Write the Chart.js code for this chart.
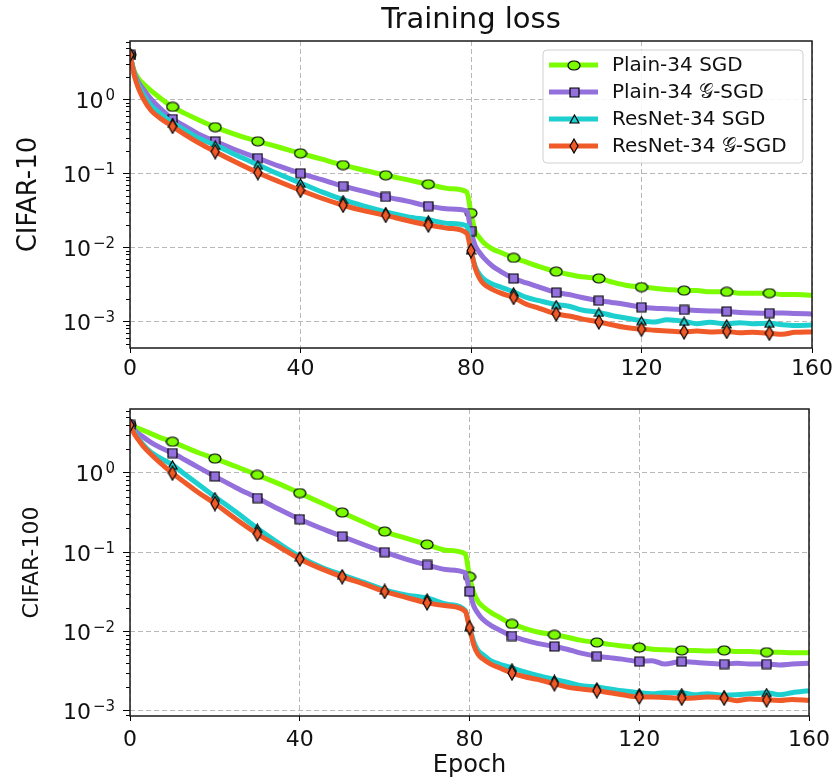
<!DOCTYPE html>
<html>
<head>
<meta charset="utf-8">
<script src="https://cdn.jsdelivr.net/npm/chart.js@4.4.1/dist/chart.umd.min.js"></script>
<style>
  html, body { margin: 0; padding: 0; background: #fff; }
  body { width: 836px; height: 778px; position: relative; overflow: hidden; }
  .box { position: absolute; left: 0; width: 836px; }
  #top { top: 0; height: 380px; }
  #bottom { top: 380px; height: 398px; }
</style>
</head>
<body>
<div class="box" id="top"><canvas id="c10" width="836" height="380"></canvas></div>
<div class="box" id="bottom"><canvas id="c100" width="836" height="398"></canvas></div>
<script>
const epochs = [0, 1, 2, 3, 5, 7, 10, 13, 16, 20, 25, 30, 35, 40, 45, 50, 55, 60, 65, 70, 75, 79,
  80, 81, 82, 83, 85, 87, 90, 93, 96, 100, 103, 106, 110, 113, 116, 120, 123, 126, 130, 133,
  136, 140, 143, 146, 150, 153, 156, 160];
// epochs that carry a marker
const markEpochs = [0, 10, 20, 30, 40, 50, 60, 70, 80, 90, 100, 110, 120, 130, 140, 150];

const seriesNames = ['Plain-34 SGD', 'Plain-34 𝒢-SGD', 'ResNet-34 SGD', 'ResNet-34 𝒢-SGD'];
const xTickValues = [0, 40, 80, 120, 160];
const yTickValues = [1, 0.1, 0.01, 0.001];
const yTickBase = '10';
const yTickExponents = ['0', '−1', '−2', '−3'];

// CIFAR-10
const c10PlainSgd = [4.0, 2.4, 1.9, 1.65, 1.3, 1.05, 0.79, 0.64, 0.53, 0.42, 0.33, 0.27, 0.225, 0.186,
  0.155, 0.129, 0.11, 0.094, 0.082, 0.071, 0.062, 0.056, 0.029, 0.0165, 0.0135, 0.0115, 0.0095,
  0.0085, 0.0072, 0.0063, 0.0055, 0.0047, 0.0043, 0.0040, 0.0038, 0.0034, 0.0031, 0.0029, 0.0028,
  0.0027, 0.0026, 0.0026, 0.0025, 0.0025, 0.0024, 0.0024, 0.0024, 0.0023, 0.0023, 0.00225];
const c10PlainGsgd = [4.0, 2.3, 1.7, 1.4, 1.0, 0.76, 0.54, 0.43, 0.34, 0.27, 0.205, 0.16, 0.125, 0.10,
  0.082, 0.067, 0.057, 0.048, 0.042, 0.036, 0.033, 0.031, 0.0166, 0.0105, 0.0085, 0.0072, 0.0056,
  0.0047, 0.0038, 0.0033, 0.0029, 0.00245, 0.0023, 0.0021, 0.0019, 0.0018, 0.0017, 0.00155, 0.0015,
  0.00148, 0.00143, 0.0014, 0.00138, 0.00136, 0.00132, 0.0013, 0.00129, 0.0013, 0.00128, 0.00126];
const c10ResSgd = [4.0, 2.2, 1.55, 1.2, 0.82, 0.65, 0.48, 0.38, 0.30, 0.24, 0.175, 0.13, 0.097, 0.074,
  0.056, 0.044, 0.036, 0.030, 0.026, 0.0235, 0.021, 0.0195, 0.0092, 0.0055, 0.0043, 0.0037, 0.0032,
  0.0029, 0.0025, 0.0021, 0.0019, 0.00168, 0.0016, 0.00142, 0.00132, 0.0012, 0.00112, 0.00102,
  0.00098, 0.00105, 0.001, 0.00093, 0.00097, 0.00092, 0.00096, 0.00093, 0.00094, 0.0009, 0.00088, 0.00089];
const c10ResGsgd = [4.0, 2.1, 1.4, 1.05, 0.7, 0.56, 0.43, 0.33, 0.26, 0.196, 0.14, 0.102, 0.077, 0.059,
  0.046, 0.037, 0.031, 0.027, 0.023, 0.020, 0.018, 0.0155, 0.009, 0.0052, 0.0038, 0.0032, 0.0027,
  0.0024, 0.0021, 0.0017, 0.0015, 0.00126, 0.00118, 0.00108, 0.00098, 0.0009, 0.00083, 0.00078,
  0.00076, 0.00074, 0.00072, 0.00074, 0.00072, 0.00073, 0.0007, 0.00071, 0.00069, 0.00067, 0.00071, 0.00072];

// CIFAR-100
const c100PlainSgd = [4.0, 3.8, 3.6, 3.45, 3.1, 2.8, 2.46, 2.1, 1.8, 1.51, 1.2, 0.94, 0.73, 0.555,
  0.42, 0.316, 0.24, 0.182, 0.15, 0.125, 0.105, 0.095, 0.049, 0.031, 0.024, 0.021, 0.0175, 0.0152,
  0.0125, 0.011, 0.0099, 0.0091, 0.0085, 0.0078, 0.0073, 0.0069, 0.0066, 0.0063, 0.006, 0.0059,
  0.0058, 0.0058, 0.0057, 0.0058, 0.0056, 0.0056, 0.0055, 0.0055, 0.0054, 0.0054];
const c100PlainGsgd = [4.0, 3.5, 3.1, 2.85, 2.4, 2.1, 1.77, 1.45, 1.18, 0.90, 0.65, 0.48, 0.35, 0.26,
  0.2, 0.158, 0.125, 0.10, 0.082, 0.069, 0.06, 0.055, 0.032, 0.021, 0.017, 0.0145, 0.012, 0.0105,
  0.0088, 0.0078, 0.0071, 0.0065, 0.006, 0.0054, 0.0049, 0.0047, 0.0045, 0.0042, 0.0043, 0.0039,
  0.0042, 0.0041, 0.004, 0.0039, 0.004, 0.0039, 0.0039, 0.0038, 0.0039, 0.004];
const c100ResSgd = [4.0, 3.3, 2.7, 2.3, 1.8, 1.55, 1.26, 0.95, 0.72, 0.50, 0.32, 0.20, 0.13, 0.088,
  0.065, 0.052, 0.042, 0.0335, 0.029, 0.0265, 0.022, 0.0185, 0.0115, 0.0075, 0.0058, 0.0052, 0.0043,
  0.0039, 0.0035, 0.0031, 0.0028, 0.0025, 0.0023, 0.0021, 0.002, 0.0019, 0.0018, 0.0017, 0.00165,
  0.0017, 0.0017, 0.0016, 0.00165, 0.00158, 0.0016, 0.00165, 0.0017, 0.0016, 0.0017, 0.0018];
const c100ResGsgd = [4.0, 3.1, 2.6, 2.2, 1.7, 1.35, 0.99, 0.75, 0.57, 0.41, 0.26, 0.17, 0.118, 0.082,
  0.062, 0.049, 0.040, 0.032, 0.027, 0.023, 0.021, 0.018, 0.0112, 0.0068, 0.0052, 0.0046, 0.0039,
  0.0035, 0.003, 0.0027, 0.0025, 0.0022, 0.002, 0.0019, 0.0018, 0.0017, 0.0016, 0.0015, 0.0015,
  0.00148, 0.00145, 0.00146, 0.0015, 0.00145, 0.00135, 0.00142, 0.00138, 0.00136, 0.0014, 0.00136];

const FONT = 'DejaVu Sans';
const colors = ['#7CFC00', '#9370DB', '#1ECFCF', '#F05A28'];
Chart.defaults.font.family = FONT;
Chart.defaults.color = '#111';

// marker sprites (circle, square, triangle, thin diamond)
function sprite(w, h, color, shape) {
  const c = document.createElement('canvas');
  c.width = w; c.height = h;
  const g = c.getContext('2d');
  g.fillStyle = color; g.strokeStyle = '#000'; g.lineWidth = 1.2;
  g.beginPath();
  shape(g, w, h);
  g.closePath(); g.fill(); g.stroke();
  return c;
}
const markers = [
  sprite(14, 11, colors[0], (g, w, h) => g.ellipse(w / 2, h / 2, w / 2 - 1, h / 2 - 1, 0, 0, Math.PI * 2)),
  sprite(11, 11, colors[1], (g, w, h) => g.rect(1, 1, w - 2, h - 2)),
  sprite(11, 10, colors[2], (g, w, h) => { g.moveTo(w / 2, 1); g.lineTo(w - 1, h - 1); g.lineTo(1, h - 1); }),
  sprite(10, 16, colors[3], (g, w, h) => { g.moveTo(w / 2, 1); g.lineTo(w - 1, h / 2); g.lineTo(w / 2, h - 1); g.lineTo(1, h / 2); })
];

function makeDataset(i, values) {
  return {
    label: seriesNames[i],
    data: epochs.map((e, k) => ({ x: e, y: values[k] })),
    borderColor: colors[i],
    backgroundColor: colors[i],
    borderWidth: 5,
    pointStyle: markers[i],
    pointRadius: ctx => (ctx.raw && markEpochs.includes(ctx.raw.x)) ? 6 : 0,
    pointHoverRadius: 0,
    cubicInterpolationMode: 'monotone',
    fill: false,
    order: 4 - i
  };
}

// frame round the plot, minor ticks on the log axis and 10^n labels
const framePlugin = {
  id: 'frame',
  afterDraw(chart) {
    const { ctx, chartArea: a } = chart;
    const y = chart.scales.y;
    ctx.save();
    ctx.strokeStyle = '#000';
    ctx.lineWidth = 1;
    const lo = Math.floor(Math.log10(y.min)), hi = Math.ceil(Math.log10(y.max));
    for (let e = lo; e <= hi; e++) {
      for (let m = 2; m <= 9; m++) {
        const v = m * Math.pow(10, e);
        if (v < y.min || v > y.max) continue;
        const py = Math.round(y.getPixelForValue(v)) + 0.5;
        ctx.beginPath(); ctx.moveTo(a.left - 4, py); ctx.lineTo(a.left, py); ctx.stroke();
      }
    }
    ctx.strokeStyle = '#1a1a1a';
    ctx.lineWidth = 1.5;
    ctx.strokeRect(a.left, a.top, a.right - a.left, a.bottom - a.top);

    // tick labels as 10 with a raised exponent
    ctx.fillStyle = '#111';
    ctx.textBaseline = 'alphabetic';
    ctx.textAlign = 'left';
    const right = a.left - 15;
    yTickValues.forEach((v, k) => {
      const py = y.getPixelForValue(v);
      ctx.font = '15px "' + FONT + '"';
      const ws = ctx.measureText(yTickExponents[k]).width;
      ctx.font = '22px "' + FONT + '"';
      const wb = ctx.measureText(yTickBase).width;
      ctx.fillText(yTickBase, right - ws - 2 - wb, py + 8.5);
      ctx.font = '15px "' + FONT + '"';
      ctx.fillText(yTickExponents[k], right - ws, py + 0.5);
    });
    ctx.restore();
  }
};

// legend box inside the top plot
const legendPlugin = {
  id: 'legendBox',
  afterDraw(chart) {
    const ctx = chart.ctx;
    const x0 = 543, y0 = 50, w = 260, h = 113;
    ctx.save();
    ctx.beginPath();
    ctx.roundRect(x0, y0, w, h, 4);
    ctx.fillStyle = 'rgba(255,255,255,0.85)';
    ctx.fill();
    ctx.strokeStyle = '#d0d0d0';
    ctx.lineWidth = 1;
    ctx.stroke();
    ctx.font = '20px "' + FONT + '"';
    ctx.textBaseline = 'middle';
    chart.data.datasets.forEach((ds, i) => {
      const ry = y0 + 15 + i * 27;
      ctx.strokeStyle = ds.borderColor;
      ctx.lineWidth = 5;
      ctx.beginPath(); ctx.moveTo(549, ry); ctx.lineTo(598, ry); ctx.stroke();
      const m = ds.pointStyle;
      ctx.drawImage(m, Math.round(574 - m.width / 2), Math.round(ry - m.height / 2));
      ctx.fillStyle = '#111';
      ctx.fillText(ds.label, 612, ry + 1);
    });
    ctx.restore();
  }
};

function makeChart(id, cfg) {
  const plugins = [framePlugin];
  if (cfg.legend) plugins.push(legendPlugin);
  return new Chart(document.getElementById(id), {
    type: 'line',
    data: { datasets: cfg.series.map((v, i) => makeDataset(i, v)) },
    plugins: plugins,
    options: {
      responsive: false,
      animation: false,
      events: [],
      layout: { padding: { left: 0, right: 24, top: cfg.padTop, bottom: 0 } },
      scales: {
        x: {
          type: 'linear', min: 0, max: 160,
          afterBuildTicks: s => { s.ticks = xTickValues.map(v => ({ value: v })); },
          afterFit: s => { s.height = cfg.xHeight; },
          ticks: { font: { size: 22 }, color: '#111', padding: cfg.xPad, maxRotation: 0 },
          grid: { color: '#b8b8b8', lineWidth: 1, tickColor: '#000', tickLength: 5, tickBorderDash: [] },
          border: { display: false, dash: [5, 3] },
          title: cfg.xTitle ? {
            display: true, text: cfg.xTitle, color: '#111',
            font: { size: 24, lineHeight: 1 }, padding: { top: 0, bottom: 0 }
          } : { display: false }
        },
        y: {
          type: 'logarithmic', min: cfg.yMin, max: cfg.yMax,
          afterBuildTicks: s => { s.ticks = yTickValues.map(v => ({ value: v })); },
          afterFit: s => { s.width = 130; },
          // labels are drawn by the frame plugin
          ticks: { autoSkip: false, callback: () => '' },
          grid: { color: '#b8b8b8', lineWidth: 1, tickColor: '#000', tickLength: 7, tickBorderDash: [] },
          border: { display: false, dash: [5, 3] },
          title: {
            display: true, text: cfg.yTitle, color: '#111',
            font: { size: cfg.yTitleSize }, padding: { top: cfg.yTitlePad, bottom: 0 }
          }
        }
      },
      plugins: {
        legend: { display: false },
        tooltip: { enabled: false },
        title: cfg.title ? {
          display: true, text: cfg.title, fullSize: false, color: '#111',
          font: { size: 29, weight: 'normal' }, padding: { top: 3, bottom: 3.2 }
        } : { display: false }
      }
    }
  });
}

makeChart('c10', {
  series: [c10PlainSgd, c10PlainGsgd, c10ResSgd, c10ResGsgd],
  title: 'Training loss', legend: true,
  yTitle: 'CIFAR-10', yTitleSize: 26, yTitlePad: 14,
  yMin: 4.36e-4, yMax: 6.13,
  padTop: 0, xHeight: 32, xPad: 3
});

makeChart('c100', {
  series: [c100PlainSgd, c100PlainGsgd, c100ResSgd, c100ResGsgd],
  yTitle: 'CIFAR-100', yTitleSize: 22, yTitlePad: 19,
  yMin: 8.65e-4, yMax: 6.36,
  padTop: 29, xHeight: 62, xPad: 6, xTitle: 'Epoch'
});
</script>
</body>
</html>
